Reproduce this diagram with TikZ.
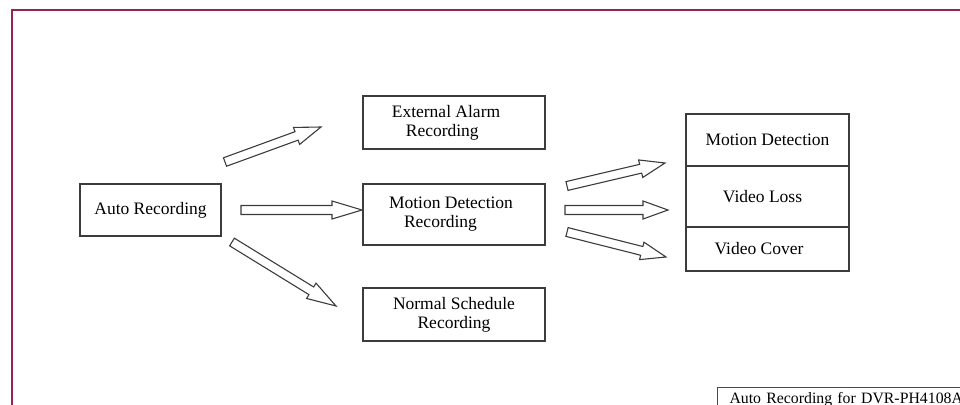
\documentclass[tikz,border=0pt]{standalone}
\usepackage{fontspec}
\setmainfont{Liberation Serif}
\definecolor{framered}{RGB}{150, 35, 80}
\definecolor{ink}{RGB}{60, 60, 60}
\usetikzlibrary{calc,positioning}
\tikzset{
	hollow/.style={draw=ink,line width=1.1pt,fill=white,line join=miter},
}
% block arrow from tail #1 to tip #2, head length #3
\newcommand{\hollowarrow}[3]{%
	\draw[hollow] let \p1=($(#2)-(#1)$), \n1={atan2(\y1,\x1)} in
		($(#1)+(\n1-90:4.5pt)$) -- ($(#2)!#3!(#1)+(\n1-90:4.5pt)$) -- ($(#2)!#3!(#1)+(\n1-90:9pt)$)
		-- (#2) -- ($(#2)!#3!(#1)+(\n1+90:9pt)$) -- ($(#2)!#3!(#1)+(\n1+90:4.5pt)$) -- ($(#1)+(\n1+90:4.5pt)$) -- cycle;
}

\begin{document}
\begin{tikzpicture}[x=1pt,y=-1pt,
			boxi/.style={draw=ink,line width=1.2pt,minimum width=182pt,minimum height=53pt,
				inner sep=0pt,align=center,font=\fontsize{17.5}{19}\selectfont},
			cell/.style={draw=ink,line width=1.2pt,minimum width=163pt,inner sep=0pt,outer sep=0pt,
				font=\fontsize{17.5}{19}\selectfont},
			caption/.style={draw=framered,line width=1pt,inner xsep=12pt,inner ysep=5pt,
				text height=11pt,text depth=20pt,text width=280pt,align=left,
				font=\fontsize{15.8}{18}\selectfont}]
	\useasboundingbox (0,0) rectangle (960,404);
	\draw[framered,line width=1.3pt] (980,10) -- (12,10) -- (12,430);

	% boxes
	\node[boxi,minimum width=141pt,minimum height=52pt] (auto) at (150.5,210) {Auto Recording};
	\node[boxi,align=left] (ext) at (454,122.5) {External Alarm\hspace*{16pt}\\\hspace*{14pt}Recording};
	\node[boxi,align=left,minimum height=61pt] (mdr) at (454,214.5) {Motion Detection\hspace*{6pt}\\\hspace*{15pt}Recording};
	\node[boxi] (nsr) at (454,314.5) {Normal Schedule\\Recording};

	\node[cell,minimum height=52pt] (md) at (767.5,140) {Motion Detection};
	\node[cell,minimum height=61pt,below=0pt of md] (vl) {Video Loss\hspace*{10pt}};
	\node[cell,minimum height=44pt,below=0pt of vl] (vc) {Video Cover\hspace*{17pt}};

	\node[caption,anchor=north west] (cap) at (717,387) {Auto Recording for DVR-PH4108AV};

	% arrow ends
	\coordinate (a1s) at (225,162);
	\coordinate (a1e) at (321,127);
	\coordinate (a2s) at (241,210);
	\coordinate (a2e) at (362,210);
	\coordinate (a3s) at (232,242);
	\coordinate (a3e) at (336,306);
	\coordinate (b1s) at (567,186);
	\coordinate (b1e) at (665,163);
	\coordinate (b2s) at (565,210);
	\coordinate (b2e) at (668,210);
	\coordinate (b3s) at (567,232);
	\coordinate (b3e) at (666,257);

	\hollowarrow{a1s}{a1e}{26pt}
	\hollowarrow{a2s}{a2e}{30pt}
	\hollowarrow{a3s}{a3e}{29pt}
	\hollowarrow{b1s}{b1e}{25pt}
	\hollowarrow{b2s}{b2e}{25pt}
	\hollowarrow{b3s}{b3e}{25pt}
\end{tikzpicture}
\end{document}
